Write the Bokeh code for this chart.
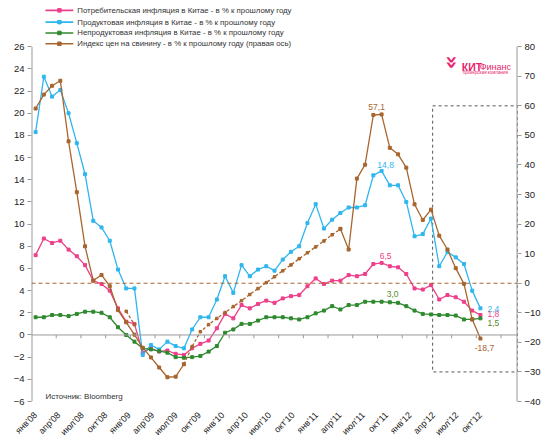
import numpy as np
from math import pi
from bokeh.plotting import figure
from bokeh.models import Range1d, LinearAxis, FixedTicker, Span
from bokeh.embed import file_html
from bokeh.resources import INLINE
from bokeh.core.properties import value

nan = float("nan")

# Jan 2008 .. Jul 2012, % y/y
cpi = [7.2, 8.7, 8.3, 8.5, 7.7, 7.1, 6.3, 4.9, 4.6, 4.0, 2.4, 1.2,
       1.0, -1.6, -1.2, -1.5, -1.4, -1.7, -1.8, -1.2, -0.8, -0.5, 0.6, 1.9,
       1.5, 2.7, 2.4, 2.8, 3.1, 2.9, 3.3, 3.5, 3.6, 4.4, 5.1, 4.6,
       4.9, 4.9, 5.4, 5.3, 5.5, 6.4, 6.5, 6.2, 6.1, 5.5, 4.2, 4.1,
       4.5, 3.2, 3.6, 3.4, 3.0, 2.2, 1.8]
food = [18.3, 23.3, 21.5, 22.1, 20.0, 17.3, 14.5, 10.3, 9.7, 8.5, 5.9, 4.2,
        4.2, -1.8, -0.9, -1.3, -0.6, -1.0, -1.2, 0.5, 1.6, 1.6, 3.2, 5.3,
        3.8, 6.3, 5.3, 5.9, 6.2, 5.8, 6.8, 7.5, 8.0, 10.1, 11.8, 9.6,
        10.4, 11.0, 11.5, 11.5, 11.7, 14.4, 14.8, 13.5, 13.5, 12.0, 8.9, 9.1,
        10.5, 6.2, 7.5, 7.0, 6.4, 4.0, 2.4]
nonfood = [1.6, 1.6, 1.8, 1.8, 1.7, 1.9, 2.1, 2.1, 2.0, 1.6, 0.7, 0.0,
           -0.6, -1.2, -1.3, -1.45, -1.6, -2.0, -2.05, -2.0, -1.9, -1.5, -1.0, 0.2,
           0.5, 1.0, 1.0, 1.3, 1.6, 1.6, 1.6, 1.5, 1.4, 1.6, 1.95, 2.2,
           2.6, 2.3, 2.7, 2.7, 3.0, 3.0, 3.0, 2.95, 2.9, 2.6, 2.2, 1.9,
           1.85, 1.8, 1.8, 1.75, 1.4, 1.4, 1.5]
pork = [59.1, 63.8, 66.8, 68.5, 48.0, 30.8, 12.5, 0.9, 2.8, -1.0, -9.1, -13.2,
        -17.4, -21.8, -25.1, -28.5, -31.8, -31.6, -27.4, nan, nan, nan, nan, nan,
        nan, nan, nan, nan, nan, nan, nan, nan, nan, nan, nan, nan,
        nan, 18.4, 11.4, 35.4, 40.1, 56.9, 57.1, 45.8, 43.6, 39.1, 26.7, 21.4,
        24.9, 16.1, 11.4, 5.1, -0.2, -12.2, -18.7]
pork_gap = [nan, nan, nan, nan, nan, nan, nan, nan, nan, nan, nan, -9.5,
            -14.0, nan, nan, nan, nan, nan, -27.4, -21.4, -16.4, -14.0, -11.9, -9.9,
            -7.9, -5.9, -3.8, -1.8, 0.2, 2.2, 4.2, 6.2, 8.3, 10.3, 12.3, 14.3,
            16.4, 18.4, nan, nan, nan, nan, nan, nan, nan, nan, nan, nan,
            nan, nan, nan, nan, nan, nan, nan]

tick_labels = ["янв'08", "апр'08", "июл'08", "окт'08", "янв'09", "апр'09", "июл'09",
               "окт'09", "янв'10", "апр'10", "июл'10", "окт'10", "янв'11", "апр'11",
               "июл'11", "окт'11", "янв'12", "апр'12", "июл'12", "окт'12"]
left_ticks = list(range(-6, 27, 2))
right_ticks = list(range(-40, 81, 10))
legend_labels = ["Потребительская инфляция в Китае - в % к прошлому году",
                 "Продуктовая инфляция в Китае - в % к прошлому году",
                 "Непродуктовая инфляция в Китае - в % к прошлому году",
                 "Индекс цен на свинину - в % к прошлому году (правая ось)"]
n_categories = 59          # Jan 2008 .. Nov 2012
highlight_start = 48.2     # start of the 2012 highlight box (category units)
box_bottom, box_top = -30, 60
label_index = 42           # Jul 2011
last_index = len(cpi) - 1

PINK = "#EE3F8B"
BLUE = "#2FB6EE"
GREEN = "#2F8A2F"
BROWN = "#A8652E"
AXIS = "#9A9A9A"
TXT = "#222222"
LOGO = "#E6256E"
FONT = "Liberation Sans"

# ---- layout (pixels) ----
W, H = 543, 443
FL, FR = 31, 519          # frame left / right
FT = 2                    # frame top (legend lives inside the frame)
AT, AB = 47, 408          # pixel rows of the axes' top (26 / 80) and bottom (-6 / -40)
YL0, YL1 = -6, 26
YR0, YR1 = -40, 80
X0, X1 = -0.5, n_categories - 0.5
ppu_l = (AB - AT) / (YL1 - YL0)
ppu_r = (AB - AT) / (YR1 - YR0)


def xd(px):
    return X0 + (px - FL) * (X1 - X0) / (FR - FL)


def yd(py):
    return YL1 - (py - AT) / ppu_l


months = np.arange(len(cpi))

p = figure(width=W, height=H, output_backend="svg", toolbar_location=None,
           title=None,
           x_range=Range1d(X0, X1), y_range=Range1d(YL0, YL1 + (AT - FT) / ppu_l),
           min_border_left=FL, min_border_right=W - FR, min_border_top=FT,
           min_border_bottom=H - AB)
p.extra_y_ranges = {"pork": Range1d(YR0, YR1 + (AT - FT) / ppu_r)}
p.grid.visible = False
p.outline_line_color = None
p.background_fill_color = "white"
p.border_fill_color = "white"

ya = p.yaxis[0]
ya.ticker = FixedTicker(ticks=left_ticks)
ra = LinearAxis(y_range_name="pork", ticker=FixedTicker(ticks=right_ticks))
p.add_layout(ra, "right")
for ax in (ya, ra):
    ax.axis_line_color = None
    ax.major_tick_line_color = AXIS
    ax.major_tick_in = 0
    ax.major_tick_out = 4
    ax.minor_tick_line_color = None
    ax.major_label_text_font = FONT
    ax.major_label_text_font_size = "9.5px"
    ax.major_label_text_color = TXT
    ax.major_label_standoff = 3
# axis lines only over the value span
p.segment(x0=[X0, X1], y0=[YL0, YL0], x1=[X0, X1], y1=[YL1, YL1],
          line_color=AXIS, line_width=2)

xa = p.xaxis[0]
xpos = [float(v) for v in np.linspace(0, last_index, len(tick_labels))]
xa.ticker = FixedTicker(ticks=xpos)
xa.major_label_overrides = {v: lab for v, lab in zip(xpos, tick_labels)}
xa.major_label_orientation = pi / 4
xa.axis_line_color = None
xa.major_tick_line_color = None
xa.minor_tick_line_color = None
xa.major_label_text_font = FONT
xa.major_label_text_font_size = "9px"
xa.major_label_text_color = TXT
xa.major_label_standoff = 6

# zero line of the left axis with its category ticks
p.add_layout(Span(location=0, dimension="width", line_color=AXIS, line_width=1))
cat_ticks = np.arange(2.5, n_categories - 1, 3)
p.segment(x0=cat_ticks, y0=0, x1=cat_ticks, y1=-0.3, line_color=AXIS, line_width=1)

# zero of the right axis, dashed
p.add_layout(Span(location=0, dimension="width", y_range_name="pork",
                  line_color=BROWN, line_width=1, line_dash="4 3"))
# highlight box
p.quad(left=[highlight_start], right=[X1], bottom=[box_bottom], top=[box_top],
       y_range_name="pork", fill_color=None, line_color="#555555", line_width=1,
       line_dash="3 3")

series = [(cpi, PINK), (food, BLUE), (nonfood, GREEN)]
for vals, col in series:
    p.line(months, vals, line_color=col, line_width=1.3)
    p.scatter(months, vals, marker="square", size=3, color=col)

p.line(months, pork_gap, line_color=BROWN, line_width=1.3, line_dash="3 2",
       y_range_name="pork")
p.scatter(months, pork_gap, marker="square", size=2.5, color=BROWN, y_range_name="pork")
p.line(months, pork, line_color=BROWN, line_width=1.3, y_range_name="pork")
p.scatter(months, pork, marker="square", size=3, color=BROWN, y_range_name="pork")

# legend drawn inside the (extended) frame
row_px = [10, 22, 33, 44]
leg_cols = [PINK, BLUE, GREEN, BROWN]
ry = [yd(v) for v in row_px]
p.segment(x0=[xd(45)] * 4, x1=[xd(73)] * 4, y0=ry, y1=ry, line_color=leg_cols,
          line_width=1.6)
p.scatter(x=[xd(59)] * 4, y=ry, marker="square", size=3.5, color=leg_cols)
p.text(x=[xd(77)] * 4, y=ry, text=legend_labels, text_font=value(FONT),
       text_font_size="7.8px", text_color="#333333", text_baseline="middle",
       text_align="left")


def fmt(v):
    return f"{v:.1f}".replace(".", ",")


def tag(x, y, col, dx, dy, align="center", baseline="bottom", rng="default"):
    p.text(x=[x], y=[y], text=[fmt(y)], x_offset=dx, y_offset=dy,
           text_color=col, text_font=value(FONT), text_font_size="8.5px",
           text_align=align, text_baseline=baseline, y_range_name=rng)


i = label_index
tag(i, pork[i], BROWN, -5, -4, rng="pork")
tag(i, food[i], BLUE, 4, -3)
tag(i, cpi[i], PINK, 4, -4)
tag(i, nonfood[i], "#5A8A1E", 11, -5)
j = last_index
tag(j, food[j], BLUE, 7, 1, align="left", baseline="middle")
tag(j, cpi[j], PINK, 7, -1, align="left", baseline="middle")
tag(j, nonfood[j], "#5A8A1E", 7, 5, align="left", baseline="middle")
tag(j, pork[j], BROWN, 4, 9, baseline="middle", rng="pork")

# source note
p.text(x=[xd(45)], y=[yd(407)], text=["Источник: Bloomberg"], text_font=value(FONT),
       text_font_size="8px", text_color="#333333", text_baseline="bottom")
# logo
p.text(x=[xd(454)], y=[yd(63)], text=["»"], angle=-pi / 2,
       text_font=value("DejaVu Sans"), text_font_style="bold",
       text_font_size="22px", text_color=LOGO, text_align="center",
       text_baseline="middle")
p.text(x=[xd(463)], y=[yd(67.5)], text=["КИТ"], text_font=value(FONT),
       text_font_style="bold", text_font_size="10.5px", text_color=LOGO,
       text_baseline="alphabetic")
p.text(x=[xd(481)], y=[yd(67.5)], text=["Финанс"], text_font=value(FONT),
       text_font_size="9px", text_color=LOGO, text_baseline="alphabetic")
p.text(x=[xd(464)], y=[yd(73.5)], text=["брокерская компания"], text_font=value(FONT),
       text_font_size="4.5px", text_color=LOGO, text_baseline="alphabetic")

open("out.html", "w").write(file_html(p, INLINE))
